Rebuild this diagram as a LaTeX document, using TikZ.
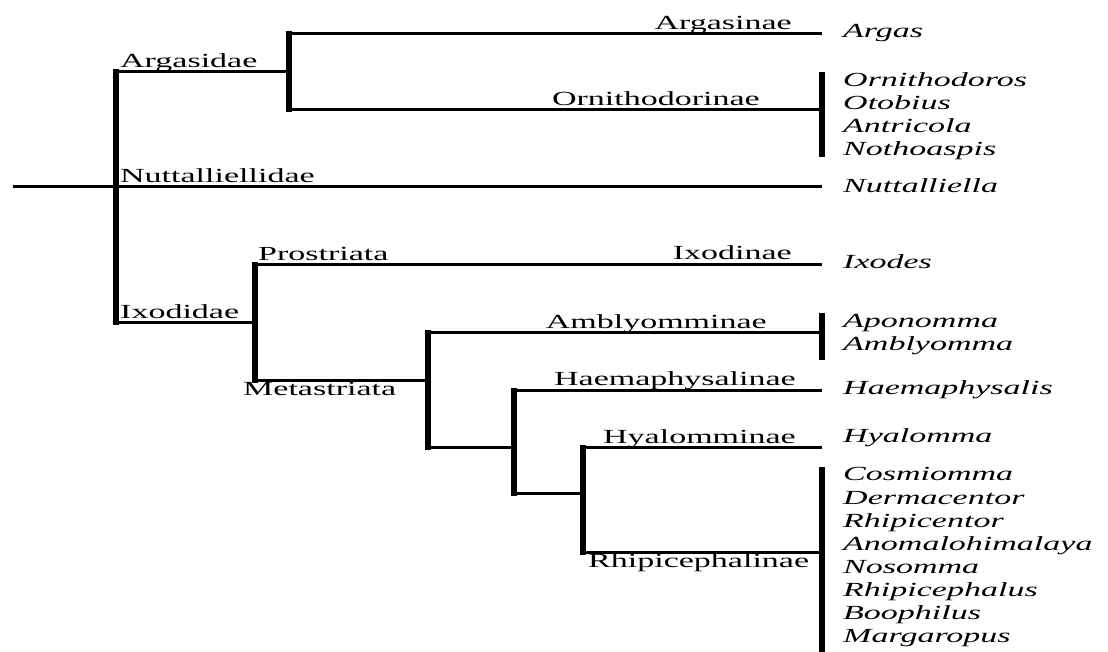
\documentclass[tikz,border=0pt]{standalone}
\usepackage{fontspec}
\setmainfont{Liberation Serif}[FakeStretch=1.7]
\begin{document}
\begin{tikzpicture}[x=1pt,y=-1pt,
  hline/.style={line width=3pt},
  vline/.style={line width=5.5pt},
  every node/.style={inner sep=0pt,font=\fontsize{20}{23}\selectfont},
  taxon/.style={anchor=base west},
  taxonr/.style={anchor=base east},
  genus/.style={anchor=base west,font=\fontsize{20}{23}\selectfont\itshape}]
\useasboundingbox (0,0) rectangle (1108,652);
% coordinates
\coordinate (r0) at (13,187);
\coordinate (rA) at (116,72);
\coordinate (rI) at (116,322);
\coordinate (a) at (289,72);
\coordinate (aT) at (289,34);
\coordinate (aB) at (289,110);
\coordinate (argE) at (822,34);
\coordinate (ornE) at (822,110);
\coordinate (bar1T) at (822,72);
\coordinate (bar1B) at (822,157);
\coordinate (nutE) at (822,187);
\coordinate (i) at (255,322);
\coordinate (iT) at (255,265);
\coordinate (iB) at (255,380);
\coordinate (ixoE) at (822,265);
\coordinate (m) at (428,380);
\coordinate (mT) at (428,332);
\coordinate (mB) at (428,447);
\coordinate (ambE) at (822,332);
\coordinate (bar2T) at (822,313);
\coordinate (bar2B) at (822,360);
\coordinate (h) at (514,447);
\coordinate (hT) at (514,390);
\coordinate (hB) at (514,493);
\coordinate (haeE) at (822,390);
\coordinate (y) at (583,493);
\coordinate (yT) at (583,447);
\coordinate (yB) at (583,552);
\coordinate (hyaE) at (822,447);
\coordinate (rhiE) at (822,552);
\coordinate (bar3T) at (822,467);
\coordinate (bar3B) at (822,652);
% horizontal branches
\draw[hline] (r0) -- (nutE);
\draw[hline] (rA) -- (a);
\draw[hline] (aT) -- (argE);
\draw[hline] (aB) -- (ornE);
\draw[hline] (rI) -- (i);
\draw[hline] (iT) -- (ixoE);
\draw[hline] (iB) -- (m);
\draw[hline] (mT) -- (ambE);
\draw[hline] (mB) -- (h);
\draw[hline] (hT) -- (haeE);
\draw[hline] (hB) -- (y);
\draw[hline] (yT) -- (hyaE);
\draw[hline] (yB) -- (rhiE);
% vertical bars
\draw[vline] (116,69) -- (116,325);
\draw[vline] (289,31.5) -- (289,112.5);
\draw[vline] (255,262.5) -- (255,382.5);
\draw[vline] (428,329.5) -- (428,449.5);
\draw[vline] (514,387.5) -- (514,495.5);
\draw[vline] (583,444.5) -- (583,554.5);
\draw[vline] (bar1T) -- (bar1B);
\draw[vline] (bar2T) -- (bar2B);
\draw[vline] (bar3T) -- (bar3B);
% higher taxa labels
\node[taxon] (argasidae) at (120,68) {Argasidae};
\node[taxonr] (argasinae) at (792,30) {Argasinae};
\node[taxonr] (ornithodorinae) at (760,106) {Ornithodorinae};
\node[taxon] (nuttalliellidae) at (120,183) {Nuttalliellidae};
\node[taxon] (prostriata) at (258,261) {Prostriata};
\node[taxonr] (ixodinae) at (792,260) {Ixodinae};
\node[taxon] (ixodidae) at (120,318) {Ixodidae};
\node[taxon] (metastriata) at (243,395) {Metastriata};
\node[taxonr] (amblyomminae) at (767,328) {Amblyomminae};
\node[taxonr] (haemaphysalinae) at (796,385) {Haemaphysalinae};
\node[taxonr] (hyalomminae) at (796,443) {Hyalomminae};
\node[taxon] (rhipicephalinae) at (588,567) {Rhipicephalinae};
% genera
\node[genus] (argas) at (843,38) {Argas};
\node[genus] (ornithodoros) at (843,87) {Ornithodoros};
\node[genus] (otobius) at (843,110) {Otobius};
\node[genus] (antricola) at (843,133) {Antricola};
\node[genus] (nothoaspis) at (843,156) {Nothoaspis};
\node[genus] (nuttalliella) at (843,193) {Nuttalliella};
\node[genus] (ixodes) at (843,269) {Ixodes};
\node[genus] (aponomma) at (843,327) {Aponomma};
\node[genus] (amblyomma) at (843,350) {Amblyomma};
\node[genus] (haemaphysalis) at (843,394) {Haemaphysalis};
\node[genus] (hyalomma) at (843,442) {Hyalomma};
\node[genus] (cosmiomma) at (843,480) {Cosmiomma};
\node[genus] (dermacentor) at (843,504) {Dermacentor};
\node[genus] (rhipicentor) at (843,527) {Rhipicentor};
\node[genus] (anomalohimalaya) at (843,550) {Anomalohimalaya};
\node[genus] (nosomma) at (843,573) {Nosomma};
\node[genus] (rhipicephalus) at (843,596) {Rhipicephalus};
\node[genus] (boophilus) at (843,619) {Boophilus};
\node[genus] (margaropus) at (843,642) {Margaropus};
\end{tikzpicture}
\end{document}
